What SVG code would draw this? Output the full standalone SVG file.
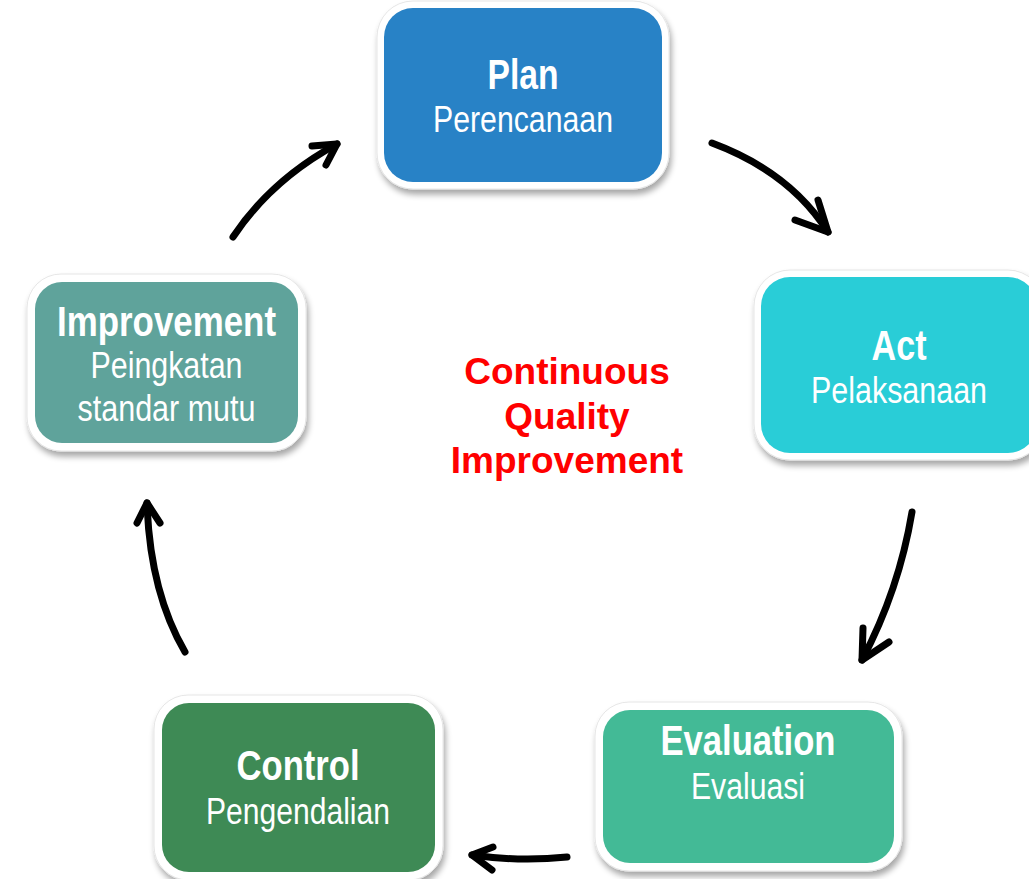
<svg xmlns="http://www.w3.org/2000/svg" width="1029" height="879" viewBox="0 0 1029 879">
<defs>
<filter id="sh" x="-10%" y="-10%" width="125%" height="130%">
<feGaussianBlur in="SourceAlpha" stdDeviation="3"/>
<feOffset dx="2" dy="5" result="b"/>
<feComponentTransfer><feFuncA type="linear" slope="0.35"/></feComponentTransfer>
<feMerge><feMergeNode/><feMergeNode in="SourceGraphic"/></feMerge>
</filter>
</defs>
<style>
.outer{fill:#ffffff;stroke:#e6e6e6;stroke-width:1;filter:url(#sh)}
.t{font-family:"Liberation Sans",Arial,sans-serif;font-weight:bold;font-size:42px;fill:#ffffff;text-anchor:middle}
.s{font-family:"Liberation Sans",Arial,sans-serif;font-size:37px;fill:#ffffff;text-anchor:middle}
.c{font-family:"Liberation Sans",Arial,sans-serif;font-weight:bold;font-size:37px;fill:#ff0000;text-anchor:middle}
.a{fill:none;stroke:#000000;stroke-width:7;stroke-linecap:round;stroke-linejoin:round}
</style>
<rect width="1029" height="879" fill="#ffffff"/>
<g id="plan">
<rect class="outer" x="377" y="1" width="292" height="188" rx="36"/>
<rect x="384" y="8" width="278" height="174" rx="29" fill="#2882C6"/>
<text class="t" x="523" y="89" textLength="71" lengthAdjust="spacingAndGlyphs">Plan</text>
<text class="s" x="523" y="132" textLength="180" lengthAdjust="spacingAndGlyphs">Perencanaan</text>
</g>
<g id="act">
<rect class="outer" x="754" y="270" width="290" height="190" rx="36"/>
<rect x="761" y="277" width="276" height="176" rx="29" fill="#29CDD7"/>
<text class="t" x="899" y="360" textLength="55" lengthAdjust="spacingAndGlyphs">Act</text>
<text class="s" x="899" y="403" textLength="176" lengthAdjust="spacingAndGlyphs">Pelaksanaan</text>
</g>
<g id="evaluation">
<rect class="outer" x="595" y="702" width="307" height="169" rx="34"/>
<rect x="603" y="710" width="291" height="153" rx="27" fill="#43BA96"/>
<text class="t" x="748" y="755" textLength="175" lengthAdjust="spacingAndGlyphs">Evaluation</text>
<text class="s" x="748" y="799" textLength="114" lengthAdjust="spacingAndGlyphs">Evaluasi</text>
</g>
<g id="control">
<rect class="outer" x="154" y="695" width="289" height="185" rx="34"/>
<rect x="162" y="703" width="273" height="169" rx="27" fill="#3E8A55"/>
<text class="t" x="298" y="780" textLength="123" lengthAdjust="spacingAndGlyphs">Control</text>
<text class="s" x="298" y="824" textLength="184" lengthAdjust="spacingAndGlyphs">Pengendalian</text>
</g>
<g id="improvement">
<rect class="outer" x="27" y="274" width="279" height="177" rx="34"/>
<rect x="35" y="282" width="263" height="161" rx="27" fill="#5FA39B"/>
<text class="t" x="166.5" y="336" textLength="219" lengthAdjust="spacingAndGlyphs">Improvement</text>
<text class="s" x="166.5" y="378" textLength="152" lengthAdjust="spacingAndGlyphs">Peingkatan</text>
<text class="s" x="166.5" y="421" textLength="178" lengthAdjust="spacingAndGlyphs">standar mutu</text>
</g>
<g id="center">
<text class="c" x="567" y="384">Continuous</text>
<text class="c" x="567" y="429">Quality</text>
<text class="c" x="567" y="473">Improvement</text>
</g>
<g id="connectors">
<path class="a" d="M712,143 Q790,172 828,232"/>
<polyline class="a" points="818,200 828,232 795,220"/>
<path class="a" d="M912,512 Q899,590 862,660"/>
<polyline class="a" points="863,628 862,660 889,642"/>
<path class="a" d="M567,857 Q520,862 472,855"/>
<polyline class="a" points="493,847 472,855 492,870"/>
<path class="a" d="M185,652 Q150,592 147,503"/>
<polyline class="a" points="137,523 147,503 160,523"/>
<path class="a" d="M233,237 Q271,180 337,144"/>
<polyline class="a" points="312,146 337,144 326,165"/>
</g>
</svg>
